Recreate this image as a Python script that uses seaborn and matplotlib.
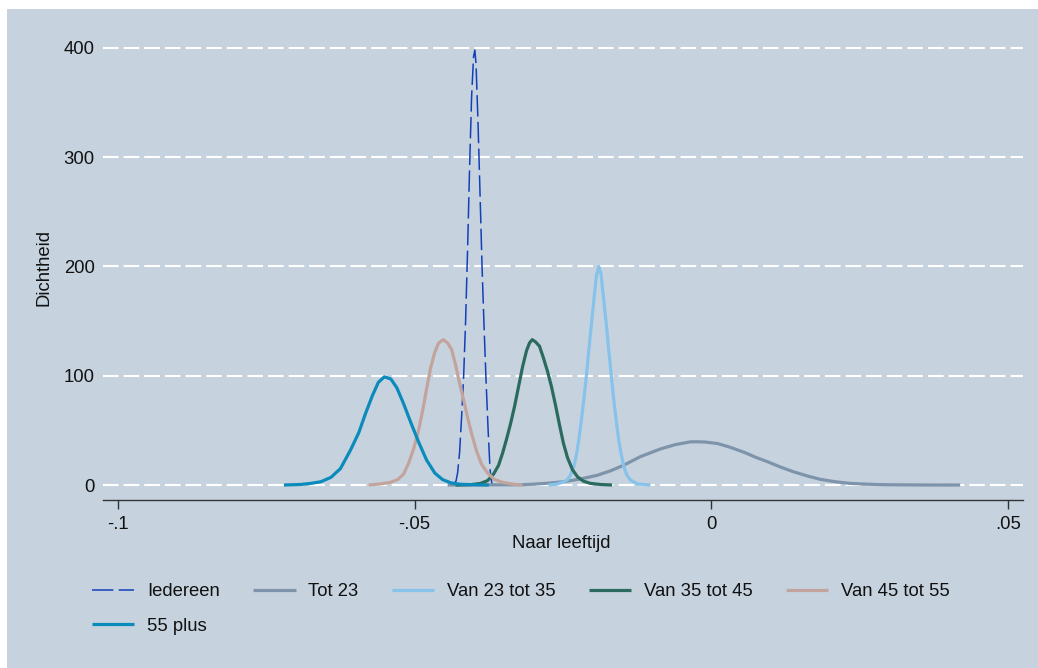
import matplotlib
matplotlib.use("Agg")
import matplotlib.pyplot as plt
from matplotlib.patches import Rectangle
import numpy as np
import pandas as pd
import seaborn as sns

# ---------------- data ----------------
groups = ["Iedereen", "Tot 23", "Van 23 tot 35", "Van 35 tot 45", "Van 45 tot 55", "55 plus"]

iedereen_x = [-0.04335, -0.04301, -0.04276, -0.04242, -0.04209, -0.04175, -0.04141, -0.04108,
              -0.04074, -0.04040, -0.04007, -0.03985, -0.03965, -0.03931, -0.03897, -0.03864,
              -0.03830, -0.03796, -0.03763, -0.03729, -0.03695]
iedereen_y = [0, 4, 11, 30, 62, 98, 150, 215, 290, 355, 392, 398, 385, 330, 265, 200, 145, 95, 52, 14, 0]

tot23_x = [-0.04444, -0.04057, -0.03721, -0.03384, -0.03165, -0.02795, -0.02492, -0.02205,
           -0.01919, -0.01700, -0.01481, -0.01195, -0.00859, -0.00606, -0.00354, -0.00236,
           -0.00101, 0.00101, 0.00320, 0.00572, 0.00741, 0.00943, 0.01162, 0.01380, 0.01616,
           0.01835, 0.02088, 0.02340, 0.02609, 0.02896, 0.03350, 0.03771, 0.04192]
tot23_y = [0, 0.1, 0.2, 0.2, 0.3, 1.5, 3, 5.5, 9, 13, 18, 26, 33, 37, 39.5, 39.6, 39.3, 38,
           34.5, 29.5, 25.5, 21.4, 16.5, 12.2, 8.3, 5.2, 3, 1.5, 0.8, 0.3, 0.1, 0, 0]

van23_x = [-0.02744, -0.02609, -0.02508, -0.02429, -0.02374, -0.02318, -0.02273, -0.02234,
           -0.02189, -0.02150, -0.02104, -0.02066, -0.02020, -0.01981, -0.01936, -0.01897,
           -0.01860, -0.01813, -0.01768, -0.01729, -0.01684, -0.01645, -0.01599, -0.01561,
           -0.01515, -0.01476, -0.01423, -0.01364, -0.01246, -0.01027]
van23_y = [0, 0.8, 2.5, 4.6, 9, 17, 28, 41, 60, 78, 101, 123, 148, 169, 192, 200, 193, 169,
           146, 123, 99, 78, 57, 41, 27, 17, 9, 4.6, 1, 0]

van35_x = [-0.04310, -0.04057, -0.03889, -0.03771, -0.03670, -0.03586, -0.03519, -0.03451,
           -0.03384, -0.03316, -0.03249, -0.03182, -0.03114, -0.03064, -0.03019, -0.02963,
           -0.02896, -0.02828, -0.02761, -0.02694, -0.02626, -0.02559, -0.02492, -0.02424,
           -0.02340, -0.02256, -0.02155, -0.02037, -0.01869, -0.01672]
van35_y = [0, 0.3, 1.5, 4, 10, 18, 29, 42, 56, 72, 90, 108, 123, 130, 133, 131, 127, 116, 104,
           90, 73, 55, 38, 25, 14, 7.5, 3.5, 1.5, 0.5, 0]

van45_x = [-0.05774, -0.05572, -0.05404, -0.05286, -0.05185, -0.05101, -0.05017, -0.04933,
           -0.04865, -0.04798, -0.04731, -0.04663, -0.04596, -0.04517, -0.04444, -0.04377,
           -0.04310, -0.04242, -0.04175, -0.04108, -0.04040, -0.03956, -0.03872, -0.03771,
           -0.03653, -0.03519, -0.03350, -0.03182]
van45_y = [0, 1, 2.5, 5, 10, 20, 33, 50, 68, 88, 107, 121, 130, 133, 130, 124, 110, 93, 78,
           62, 47, 31, 19, 11, 5, 2.5, 0.8, 0]

plus55_x = [-0.0720, -0.0692, -0.0675, -0.0658, -0.0641, -0.0625, -0.0608, -0.0594, -0.0583,
            -0.0571, -0.0561, -0.0551, -0.0540, -0.0530, -0.0519, -0.0507, -0.0493, -0.0480,
            -0.0466, -0.0453, -0.0439, -0.0423, -0.0397, -0.0375]
plus55_y = [0, 0.5, 1.5, 3, 7, 15, 32, 48, 65, 82, 94, 99, 97, 89, 75, 58, 39, 23, 11, 5, 2,
            0.7, 0.2, 0]

xticks = [-0.1, -0.05, 0, 0.05]
xtick_labels = ["-.1", "-.05", "0", ".05"]
yticks = [0, 100, 200, 300, 400]
ytick_labels = ["0", "100", "200", "300", "400"]

# ---------------- styling ----------------
bg = "#C6D3DF"
colors = {
    "Iedereen": "#1340B8",
    "Tot 23": "#7E94AA",
    "Van 23 tot 35": "#86C2EA",
    "Van 35 tot 45": "#2B6B5F",
    "Van 45 tot 55": "#C3A49C",
    "55 plus": "#0A8BBB",
}

sns.set_style("white")
plt.rcParams["font.family"] = ["Liberation Sans", "DejaVu Sans"]
fs = 13.3

series = {
    "Iedereen": (iedereen_x, iedereen_y),
    "Tot 23": (tot23_x, tot23_y),
    "Van 23 tot 35": (van23_x, van23_y),
    "Van 35 tot 45": (van35_x, van35_y),
    "Van 45 tot 55": (van45_x, van45_y),
    "55 plus": (plus55_x, plus55_y),
}
df = pd.concat(
    [pd.DataFrame({"x": xs, "y": ys, "groep": g}) for g, (xs, ys) in series.items()],
    ignore_index=True,
)

W, H = 1038, 668
fig = plt.figure(figsize=(W / 100, H / 100), dpi=100, facecolor="white")
fig.patches.append(Rectangle((7 / W, 0), (W - 7) / W, (H - 9) / H, transform=fig.transFigure,
                             facecolor=bg, edgecolor="none", zorder=-10))
ax = fig.add_axes([103 / W, 1 - 500 / H, 920 / W, 462 / H])
ax.set_zorder(1)
ax.set_facecolor(bg)

for g in groups:
    sub = df[df["groep"] == g]
    if g == "Iedereen":
        sns.lineplot(data=sub, x="x", y="y", ax=ax, color=colors[g], lw=1.1,
                     linestyle=(0, (14, 3.5)), label=g, sort=False, estimator=None)
    else:
        sns.lineplot(data=sub, x="x", y="y", ax=ax, color=colors[g], lw=2.3,
                     label=g, sort=False, estimator=None, solid_joinstyle="round",
                     solid_capstyle="butt")

ax.set_xlim(-0.1025, 0.0525)
ax.set_ylim(-13.7, 409)
ax.set_xticks(xticks)
ax.set_xticklabels(xtick_labels)
ax.set_yticks(yticks)
ax.set_yticklabels(ytick_labels)

ax.yaxis.grid(True, color="white", lw=1.5, linestyle=(0, (7.5, 2.4)))
ax.xaxis.grid(False)
ax.set_axisbelow(True)

for s in ["top", "right", "left"]:
    ax.spines[s].set_visible(False)
ax.spines["bottom"].set_color("#333333")
ax.spines["bottom"].set_linewidth(1.0)

ax.tick_params(axis="x", direction="out", length=6.3, width=1.0, color="#333333",
               labelsize=fs, labelcolor="#111111", pad=5, bottom=True)
ax.tick_params(axis="y", length=0, labelsize=fs, labelcolor="#111111", pad=6, left=False)

ax.set_xlabel("")
ax.set_ylabel("")
fig.text(561 / W, 1 - 544 / H, "Naar leeftijd", ha="center", va="center", fontsize=fs,
         color="#111111")
fig.text(44 / W, 1 - 268 / H, "Dichtheid", ha="center", va="center", rotation=90,
         fontsize=fs, color="#111111")

handles, labels = ax.get_legend_handles_labels()
ax.get_legend().remove()
hmap = dict(zip(labels, handles))
order = ["Iedereen", "55 plus", "Tot 23", "Van 23 tot 35", "Van 35 tot 45", "Van 45 tot 55"]
fig.legend([hmap[o] for o in order], order, loc="upper left",
           bbox_to_anchor=(92 / W, 1 - 583 / H), ncol=5, frameon=False, fontsize=fs,
           handlelength=2.3, handletextpad=0.68, columnspacing=1.8, labelspacing=0.95,
           borderpad=0, borderaxespad=0, labelcolor="#111111")

fig.savefig("out.png", dpi=100, facecolor="white")
